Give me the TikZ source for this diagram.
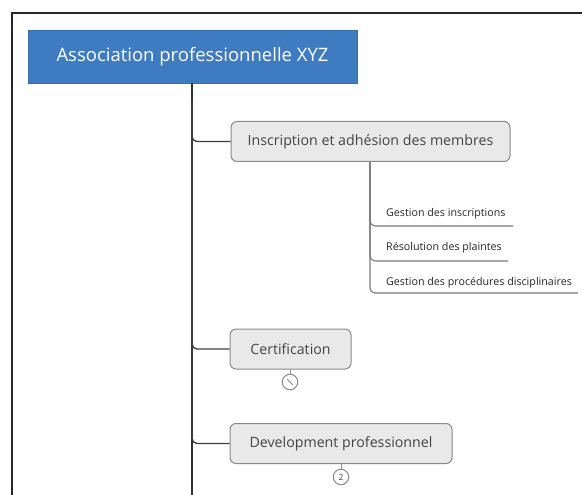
\documentclass[tikz,border=0pt]{standalone}
\usepackage{fontspec}
\setmainfont{Open Sans}
\usetikzlibrary{calc}
\definecolor{rootblue}{HTML}{3F7BC0}
\definecolor{boxfill}{HTML}{E9E9E9}
\definecolor{boxdraw}{HTML}{8A8A8A}
\definecolor{txtgray}{HTML}{444444}
\definecolor{linegray}{HTML}{7A7A7A}
\tikzset{
  rootbox/.style={draw=rootblue!90!black, fill=rootblue, text=white, minimum width=329pt, minimum height=53pt, inner sep=0pt, font=\fontsize{18.5}{20}\selectfont},
  topicbox/.style={draw=boxdraw, fill=boxfill, rounded corners=6pt, text=txtgray, minimum height=40pt, inner sep=0pt, line width=1pt, font=\fontsize{14.2}{16}\selectfont},
  subitem/.style={anchor=base west, text=black!85, inner sep=0pt, font=\fontsize{10.7}{12}\selectfont},
  trunk/.style={draw=black!80, line width=1.6pt},
  branch/.style={draw=black!75, line width=1.4pt, rounded corners=5pt},
  subline/.style={draw=linegray, line width=1.1pt, rounded corners=5pt},
  badge/.style={circle, draw=boxdraw, fill=white, minimum size=15.5pt, inner sep=0pt, line width=1pt, font=\fontsize{8.5}{9}\selectfont, text=txtgray}
}
\begin{document}
\begin{tikzpicture}[x=1pt,y=-1pt]
\useasboundingbox (0,0) rectangle (582,495);
% frame
\draw[black!85, line width=1.6pt] (12,600) -- (12,13) -- (700,13);
% root
\node[rootbox] (root) at (192.5,56.5) {Association professionnelle XYZ};
\coordinate (trunktop) at (192,83);
\coordinate (trunkend) at (192,500);
\draw[trunk] (trunktop) -- (trunkend);
% topics
\node[topicbox, minimum width=279pt] (t1) at (370.5,141.5) {Inscription et adhésion des membres};
\node[topicbox, minimum width=121pt] (t2) at (290.5,349) {Certification};
\node[topicbox, minimum width=222pt] (t3) at (341,443.5) {Development professionnel};
\coordinate (bstart) at (192,100);
\foreach \t in {t1,t2,t3}{
  \draw[branch] (bstart) |- (\t.west);
}
% sub items
\node[subitem] (s1) at (386,216.5) {Gestion des inscriptions};
\node[subitem] (s2) at (386,250.5) {Résolution des plaintes};
\node[subitem] (s3) at (386,285.5) {Gestion des procédures disciplinaires};
\coordinate (e1) at (513,226);
\coordinate (e2) at (508,261);
\coordinate (e3) at (578,293);
\coordinate (sb) at (370,162);
\draw[subline] (sb) |- (e1);
\draw[subline] (sb) |- (e2);
\draw[subline] (sb) |- (e3);
% badges
\node[badge] (b2) at (290,382) {};
\draw[boxdraw, line width=0.9pt] ($(b2.north west)+(3.2,3.2)$) -- ($(b2.south east)+(-3.2,-3.2)$);
\draw[boxdraw, line width=1pt] (t2.south -| b2) -- (b2.north);
\node[badge] (b3) at (341,477) {2};
\draw[boxdraw, line width=1pt] (t3.south -| b3) -- (b3.north);
\end{tikzpicture}
\end{document}
